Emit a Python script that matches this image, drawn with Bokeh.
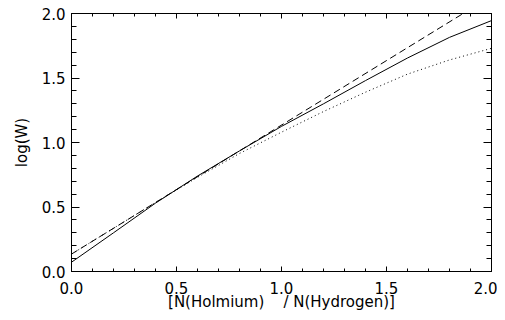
from bokeh.plotting import figure
from bokeh.models import LinearAxis, Range1d, FixedTicker
from bokeh.embed import file_html
from bokeh.resources import INLINE

# data
x_vals = [0.0, 0.2, 0.4, 0.6, 0.8, 1.0, 1.2, 1.4, 1.6, 1.8, 2.0]
solid_y = [0.072, 0.30, 0.53, 0.74, 0.935, 1.125, 1.30, 1.48, 1.655, 1.815, 1.945]
dotted_y = [0.135, 0.335, 0.535, 0.73, 0.915, 1.08, 1.24, 1.39, 1.53, 1.64, 1.73]
dashed_x = [0.0, 2.0]
dashed_y = [0.135, 2.135]

major_ticks = [0.0, 0.5, 1.0, 1.5, 2.0]
minor_ticks = [0.1, 0.2, 0.3, 0.4, 0.6, 0.7, 0.8, 0.9, 1.1, 1.2, 1.3, 1.4,
               1.6, 1.7, 1.8, 1.9]
tick_labels = {0.0: "0.0", 0.5: "0.5", 1.0: "1.0", 1.5: "1.5", 2.0: "2.0"}

x_title = "[N(Holmium)\u00a0\u00a0\u00a0\u00a0/\u00a0N(Hydrogen)]"
y_title = "log(W)"

FONT = "DejaVu Sans"

p = figure(frame_width=420, frame_height=258, output_backend="svg",
           toolbar_location=None,
           x_range=Range1d(0, 2), y_range=Range1d(0, 2),
           x_axis_location=None, y_axis_location=None,
           min_border_left=71, min_border_right=6, min_border_top=13,
           min_border_bottom=41)
p.grid.visible = False
p.outline_line_color = "black"
p.outline_line_width = 1
p.background_fill_color = "white"
p.border_fill_color = "white"


def make_axis(show_labels, tick_len_major, tick_len_minor, label=None):
    ax = LinearAxis(ticker=FixedTicker(ticks=major_ticks, minor_ticks=minor_ticks))
    ax.major_tick_in = tick_len_major
    ax.major_tick_out = 0
    ax.minor_tick_in = tick_len_minor
    ax.minor_tick_out = 0
    ax.axis_line_color = "black"
    ax.major_tick_line_color = "black"
    ax.minor_tick_line_color = "black"
    if show_labels:
        ax.major_label_overrides = tick_labels
        ax.major_label_text_font = FONT
        ax.major_label_text_font_size = "15px"
        ax.major_label_text_color = "black"
    else:
        ax.major_label_text_font_size = "0px"
        ax.major_label_text_alpha = 0
    if label is not None:
        ax.axis_label = label
        ax.axis_label_text_font = FONT
        ax.axis_label_text_font_style = "normal"
        ax.axis_label_text_color = "black"
    return ax


bottom = make_axis(True, 5, 3, x_title)
bottom.major_label_standoff = 10
bottom.axis_label_text_font_size = "15px"
bottom.axis_label_standoff = -4
p.add_layout(bottom, "below")

top = make_axis(False, 5, 3)
top.major_label_standoff = 0
p.add_layout(top, "above")

left = make_axis(True, 8, 5, y_title)
left.major_label_standoff = 6
left.major_label_orientation = "horizontal"
left.axis_label_text_font_size = "15px"
left.axis_label_standoff = 8
p.add_layout(left, "left")

right = make_axis(False, 8, 5)
right.major_label_standoff = 0
p.add_layout(right, "right")

p.line(x_vals, solid_y, line_color="black", line_width=1)
p.line(x_vals, dotted_y, line_color="black", line_width=1, line_dash="1 3")
p.line(dashed_x, dashed_y, line_color="black", line_width=1, line_dash="7 4")

open("out.html", "w").write(file_html(p, INLINE))
